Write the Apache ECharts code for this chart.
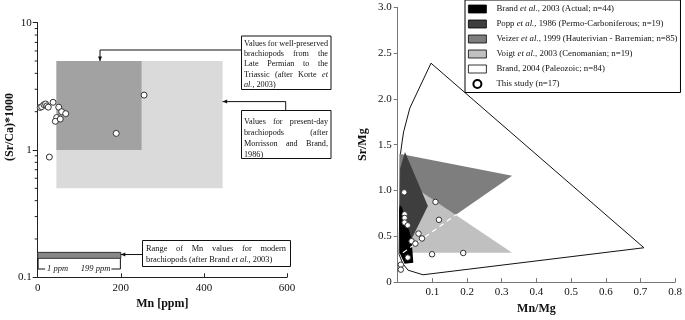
<!DOCTYPE html>
<html>
<head>
<meta charset="utf-8">
<script src="https://cdn.jsdelivr.net/npm/echarts@6/dist/echarts.min.js"></script>
<style>
  html, body { margin: 0; padding: 0; background: #fff; }
  #chart { width: 685px; height: 320px; }
</style>
</head>
<body>
<div id="chart"></div>
<script>
// ---- left panel: Mn [ppm] vs (Sr/Ca)*1000 ----
const mnPpm = [6, 9.6, 15, 19, 22, 25.5, 37, 50.6, 57.8, 67.4, 45.7, 42.4, 54.4, 28, 189, 256];
const srCa = [2.16, 2.19, 2.27, 2.30, 2.22, 2.17, 2.37, 2.17, 2.0, 1.93, 1.80, 1.68, 1.75, 0.88, 1.35, 2.70];
// [Mn min, Mn max, Sr/Ca min, Sr/Ca max]
const presentDayRange = [45, 445, 0.5, 5];
const permianTriassicRange = [45, 250, 1, 5];
const modernMnRange = [0, 200, 0.141, 0.157];
const modernMnEnds = [1, 199];
const srCaMinorTicks = [0.2, 0.3, 0.4, 0.5, 0.6, 0.7, 0.8, 0.9, 2, 3, 4, 5, 6, 7, 8, 9];

// ---- right panel: Mn/Mg vs Sr/Mg ----
const mnMg = [0.019, 0.02, 0.02, 0.02, 0.029, 0.109, 0.119, 0.06, 0.07, 0.04, 0.051, 0.099, 0.189, 0.029, 0.009, 0.009];
const srMg = [0.98, 0.74, 0.70, 0.65, 0.62, 0.875, 0.68, 0.53, 0.476, 0.447, 0.42, 0.304, 0.318, 0.268, 0.19, 0.136];
const brand2004 = [[0.004, 0.30], [0.008, 1.40], [0.013, 1.54], [0.017, 1.64], [0.035, 1.90], [0.096, 2.39], [0.710, 0.375], [0.073, 0.08], [0.030, 0.13], [0.015, 0.20]];
const veizer1999 = [[0.005, 1.40], [0.330, 1.16], [0.040, 0.40], [0.005, 0.40]];
const voigt2003 = [[0.055, 1.02], [0.330, 0.32], [0.030, 0.32], [0.030, 0.60]];
const popp1986 = [[0.007, 1.24], [0.021, 1.42], [0.087, 0.83], [0.040, 0.47], [0.006, 0.45]];
const brand2003 = [[0.006, 0.84], [0.012, 0.82], [0.020, 0.72], [0.040, 0.47], [0.045, 0.21], [0.020, 0.20], [0.005, 0.32], [0.004, 0.78]];
const trendLine = [[0.015, 0.32], [0.17, 0.74]];

const SERIF = '"Liberation Serif", "DejaVu Serif", serif';
const chart = echarts.init(document.getElementById('chart'));

function rangeSeries(range, fill, stroke) {
  return {
    type: 'custom', xAxisIndex: 0, yAxisIndex: 0, silent: true, z: 1,
    encode: { x: [0, 1], y: [2, 3] },
    data: [range],
    renderItem: (params, api) => {
      const a = api.coord([range[0], range[3]]);
      const b = api.coord([range[1], range[2]]);
      return {
        type: 'rect',
        shape: { x: a[0], y: a[1], width: b[0] - a[0], height: b[1] - a[1] },
        style: { fill: fill, stroke: stroke || null, lineWidth: 1 }
      };
    }
  };
}

function polySeries(name, pts, fill, z) {
  return {
    type: 'custom', name: name, xAxisIndex: 1, yAxisIndex: 1, silent: true, z: z,
    itemStyle: { color: fill },
    encode: { x: 0, y: 1 },
    data: pts,
    renderItem: (params, api) => {
      if (params.dataIndex !== 0) return null;
      return {
        type: 'polygon',
        shape: { points: pts.map((p) => api.coord(p)) },
        style: { fill: fill, stroke: fill === '#fff' ? '#111' : null, lineWidth: 1 }
      };
    }
  };
}

const axisText = { fontFamily: SERIF, fontSize: 11, color: '#111' };
const nameText = { fontFamily: SERIF, fontSize: 12, fontWeight: 'bold', color: '#111' };

const option = {
  animation: false,
  grid: [
    { left: 37.7, top: 22.7, width: 249.3, height: 254.6 },
    { left: 397.7, top: 7.3, width: 280, height: 278.4 }
  ],
  xAxis: [
    {
      gridIndex: 0, type: 'value', min: 0, max: 600, interval: 200,
      name: 'Mn [ppm]', nameLocation: 'middle', nameGap: 20, nameTextStyle: nameText,
      axisLine: { lineStyle: { color: '#222' } },
      axisTick: { inside: true, length: 4, lineStyle: { color: '#222' } },
      axisLabel: Object.assign({ margin: 5 }, axisText),
      splitLine: { show: false }
    },
    {
      gridIndex: 1, type: 'value', min: 0, max: 0.8, interval: 0.1,
      name: 'Mn/Mg', nameLocation: 'middle', nameGap: 19, nameTextStyle: nameText,
      axisLine: { lineStyle: { color: '#777' } },
      axisTick: { inside: true, length: 4, lineStyle: { color: '#777' } },
      axisLabel: Object.assign({ margin: 5, formatter: (v) => (v === 0 ? '' : v.toFixed(1)) }, axisText),
      splitLine: { show: false }
    }
  ],
  yAxis: [
    {
      gridIndex: 0, type: 'log', logBase: 10, min: 0.1, max: 10,
      axisLine: { show: true, lineStyle: { color: '#222' } },
      axisTick: { show: true, length: 5, lineStyle: { color: '#222' } },
      axisLabel: Object.assign({ margin: 6, formatter: (v) => String(+v.toPrecision(3)) }, axisText),
      splitLine: { show: false }
    },
    {
      gridIndex: 1, type: 'value', min: 0, max: 3, interval: 0.5,
      name: 'Sr/Mg', nameLocation: 'middle', nameGap: 29, nameRotate: 90, nameTextStyle: nameText,
      axisLine: { show: true, lineStyle: { color: '#777' } },
      axisTick: { show: true, length: 4, lineStyle: { color: '#777' } },
      axisLabel: Object.assign({ margin: 6, formatter: (v) => (v === 0 ? '0' : v.toFixed(1)) }, axisText),
      splitLine: { show: false }
    }
  ],
  legend: {
    left: 465, top: 0, orient: 'vertical',
    padding: [3.5, 3, 3, 3], itemWidth: 18, itemHeight: 8, itemGap: 4,
    borderColor: '#000', borderWidth: 1, backgroundColor: '#fff',
    selectedMode: false,
    textStyle: {
      fontFamily: SERIF, fontSize: 8.8, color: '#111', lineHeight: 11, padding: [0, 0, 0, 5],
      rich: { i: { fontFamily: SERIF, fontSize: 8.8, fontStyle: 'italic', color: '#111' } }
    },
    formatter: (n) => n.replace('et al.', '{i|et al.}'),
    data: [
      { name: 'Brand et al., 2003 (Actual; n=44)', icon: 'rect', itemStyle: { color: '#000', borderColor: '#000', borderWidth: 0.8 } },
      { name: 'Popp et al., 1986 (Permo-Carboniferous; n=19)', icon: 'rect', itemStyle: { color: '#3e3e3e', borderColor: '#000', borderWidth: 0.8 } },
      { name: 'Veizer et al., 1999 (Hauterivian - Barremian; n=85)', icon: 'rect', itemStyle: { color: '#7e7e7e', borderColor: '#000', borderWidth: 0.8 } },
      { name: 'Voigt et al., 2003 (Cenomanian; n=19)', icon: 'rect', itemStyle: { color: '#c0c0c0', borderColor: '#000', borderWidth: 0.8 } },
      { name: 'Brand, 2004 (Paleozoic; n=84)', icon: 'rect', itemStyle: { color: '#fff', borderColor: '#000', borderWidth: 0.8 } },
      { name: 'This study (n=17)', icon: 'circle', itemStyle: { color: '#fff', borderColor: '#000', borderWidth: 2 } }
    ]
  },
  series: [
    // left panel
    rangeSeries(presentDayRange, '#dadada'),
    rangeSeries(permianTriassicRange, '#a2a2a2'),
    rangeSeries(modernMnRange, '#888', '#333'),
    {
      type: 'custom', xAxisIndex: 0, yAxisIndex: 0, silent: true, clip: false, z: 3,
      encode: { x: 0, y: 1 },
      data: srCaMinorTicks.map((v) => [0, v]),
      renderItem: (params, api) => {
        const p = api.coord(api.value(0) === 0 ? [0, srCaMinorTicks[params.dataIndex]] : [0, 1]);
        return { type: 'line', shape: { x1: p[0] - 3, y1: p[1], x2: p[0], y2: p[1] }, style: { stroke: '#222', lineWidth: 1 } };
      }
    },
    {
      type: 'scatter', name: 'This study (n=17)', xAxisIndex: 0, yAxisIndex: 0, z: 5,
      symbol: 'circle', symbolSize: 6,
      itemStyle: { color: '#fff', borderColor: '#333', borderWidth: 1, opacity: 1 },
      data: mnPpm.map((x, i) => [x, srCa[i]])
    },
    // right panel
    polySeries('Brand, 2004 (Paleozoic; n=84)', brand2004, '#fff', 1),
    polySeries('Veizer et al., 1999 (Hauterivian - Barremian; n=85)', veizer1999, '#7e7e7e', 2),
    polySeries('Voigt et al., 2003 (Cenomanian; n=19)', voigt2003, '#c0c0c0', 3),
    polySeries('Popp et al., 1986 (Permo-Carboniferous; n=19)', popp1986, '#3e3e3e', 4),
    polySeries('Brand et al., 2003 (Actual; n=44)', brand2003, '#000', 5),
    {
      type: 'line', xAxisIndex: 1, yAxisIndex: 1, z: 6, silent: true,
      showSymbol: false, symbol: 'none',
      lineStyle: { color: '#fff', width: 1.2, type: [5, 4] },
      data: trendLine
    },
    {
      type: 'scatter', name: 'This study (n=17)', xAxisIndex: 1, yAxisIndex: 1, z: 7,
      symbol: 'circle', symbolSize: 5.5,
      itemStyle: { color: '#fff', borderColor: '#333', borderWidth: 1, opacity: 1 },
      data: mnMg.map((x, i) => [x, srMg[i]])
    }
  ]
};

chart.setOption(option);

// ---- annotations on the left panel ----
const measureCtx = document.createElement('canvas').getContext('2d');
function fontOf(italic, size) {
  return (italic ? 'italic ' : '') + size + 'px ' + SERIF;
}
// words starting with '*' are italic; every line but the last is justified
function justifiedText(lines, x, y, width, lineH, size) {
  const out = [];
  lines.forEach((line, li) => {
    const words = line.split(' ').map((w) => ({ t: w.replace('*', ''), it: w.startsWith('*') }));
    words.forEach((w) => {
      measureCtx.font = fontOf(w.it, size);
      w.w = measureCtx.measureText(w.t).width;
    });
    const total = words.reduce((s, w) => s + w.w, 0);
    measureCtx.font = fontOf(false, size);
    const space = measureCtx.measureText(' ').width;
    const last = li === lines.length - 1;
    const gap = !last && words.length > 1 ? (width - total) / (words.length - 1) : space;
    let cx = x;
    words.forEach((w) => {
      out.push({
        type: 'text', x: cx, y: y + li * lineH, z: 20, silent: true,
        style: { text: w.t, font: fontOf(w.it, size), fill: '#111', verticalAlign: 'middle', textVerticalAlign: 'middle' }
      });
      cx += w.w + gap;
    });
  });
  return out;
}

function box(x, y, w, h) {
  return { type: 'rect', z: 19, silent: true, shape: { x: x, y: y, width: w, height: h }, style: { fill: '#fff', stroke: '#111', lineWidth: 1 } };
}
function line(points) {
  return { type: 'polyline', z: 19, silent: true, shape: { points: points }, style: { stroke: '#111', lineWidth: 1, fill: null } };
}
function arrowHead(tip, dir) {
  const L = 4.5, W = 2;
  let pts;
  if (dir === 'down') pts = [[tip[0], tip[1]], [tip[0] - W, tip[1] - L], [tip[0] + W, tip[1] - L]];
  else pts = [[tip[0], tip[1]], [tip[0] + L, tip[1] - W], [tip[0] + L, tip[1] + W]];
  return { type: 'polygon', z: 19, silent: true, shape: { points: pts }, style: { fill: '#111' } };
}
function px(v) {
  return chart.convertToPixel({ gridIndex: 0 }, v);
}

const tip1 = px([150, permianTriassicRange[3]]);
const tip2 = px([presentDayRange[1], 2.4]);
const tip3 = px([modernMnRange[1], 0.151]);
const endA = px([modernMnEnds[0], modernMnRange[2]]);
const endB = px([modernMnEnds[1], modernMnRange[2]]);
const bracketY = 269;

const graphic = [
  box(241.5, 36, 89.5, 53.5),
  line([[241.5, 50], [tip1[0], 50], [tip1[0], tip1[1]]]),
  arrowHead(tip1, 'down'),
  box(241.5, 110.5, 89.5, 48),
  line([[285.7, 110.5], [285.7, tip2[1]], [tip2[0], tip2[1]]]),
  arrowHead(tip2, 'left'),
  box(142.5, 240.5, 148, 26),
  line([[142.5, tip3[1]], [tip3[0], tip3[1]]]),
  arrowHead(tip3, 'left'),
  line([[endA[0] + 7, bracketY], [endA[0], bracketY], [endA[0], endA[1]]]),
  line([[endB[0] - 9, bracketY], [endB[0], bracketY], [endB[0], endB[1]]]),
  {
    type: 'text', x: endA[0] + 9, y: bracketY, z: 20, silent: true,
    style: { text: '1 ppm', font: fontOf(true, 8.5), fill: '#111', verticalAlign: 'middle', textVerticalAlign: 'middle' }
  },
  {
    type: 'text', x: endB[0] - 10, y: bracketY, z: 20, silent: true,
    style: { text: '199 ppm', font: fontOf(true, 8.5), fill: '#111', align: 'right', textAlign: 'right', verticalAlign: 'middle', textVerticalAlign: 'middle' }
  },
  {
    type: 'text', x: 10, y: 127, rotation: Math.PI / 2, z: 20, silent: true,
    style: { text: '(Sr/Ca)*1000', font: 'bold 12px ' + SERIF, fill: '#111', align: 'center', textAlign: 'center', verticalAlign: 'middle', textVerticalAlign: 'middle' }
  }
]
  .concat(justifiedText(['Values for well-preserved', 'brachiopods from the', 'Late Permian to the', 'Triassic (after Korte *et', '*al., 2003)'], 244, 43.5, 84, 10.4, 8.2))
  .concat(justifiedText(['Values for present-day', 'brachiopods (after', 'Morrisson and Brand,', '1986)'], 244, 121.5, 84, 11, 8.2))
  .concat(justifiedText(['Range of Mn values for modern', 'brachiopods (after Brand *et *al., 2003)'], 146, 249, 140, 10.8, 8.4));

chart.setOption({ graphic: graphic });
</script>
</body>
</html>
